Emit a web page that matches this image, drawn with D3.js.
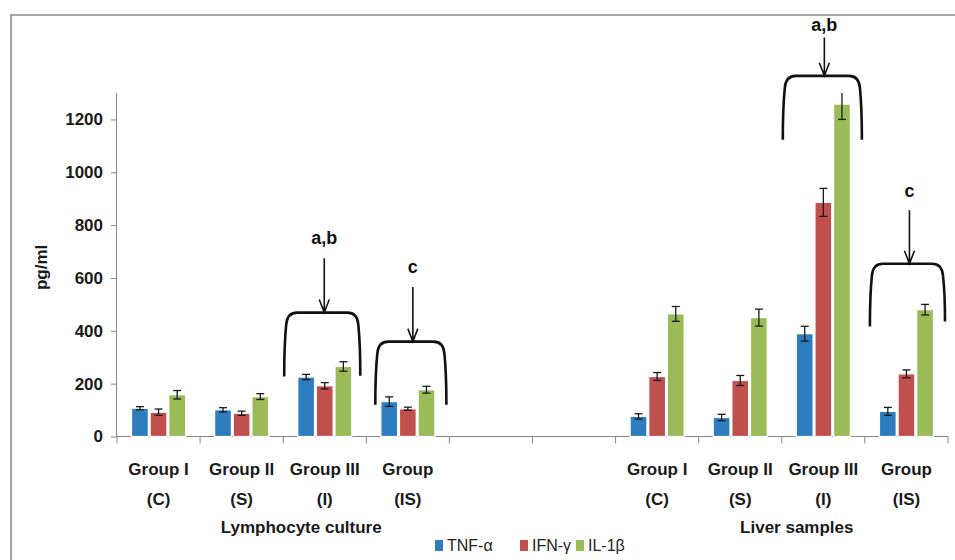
<!DOCTYPE html>
<html>
<head>
<meta charset="utf-8">
<script src="https://cdn.jsdelivr.net/npm/d3@7"></script>
<style>
  body { margin: 0; background: #fff; }
  svg text { font-family: "Liberation Sans", Arial, sans-serif; }
</style>
</head>
<body>
<div id="chart"></div>
<script>
// categories (two text lines each); two empty slots separate the panels
const catLine1 = ["Group I", "Group II", "Group III", "Group", "", "", "Group I", "Group II", "Group III", "Group"];
const catLine2 = ["(C)", "(S)", "(I)", "(IS)", "", "", "(C)", "(S)", "(I)", "(IS)"];

const series = ["TNF-α", "IFN-γ", "IL-1β"];
const colors = ["#2e7ebf", "#c0504d", "#9bbb59"];

const tnf    = [107, 101, 225, 132, null, null, 76, 72, 389, 95];
const tnfErr = [6, 8, 10, 18, 0, 0, 10, 12, 28, 15];
const ifn    = [92, 88, 192, 105, null, null, 227, 212, 886, 237];
const ifnErr = [12, 8, 12, 6, 0, 0, 15, 19, 53, 15];
const il1    = [158, 151, 265, 177, null, null, 464, 450, 1258, 480];
const il1Err = [16, 11, 18, 13, 0, 0, 28, 32, 58, 20];

const yTicks = [0, 200, 400, 600, 800, 1000, 1200];
const yMax = 1300;

// significance brackets: category index, letter, bracket top / foot values, arrow start, letter position
const annCat    = [2, 3, 8, 9];
const annLabel  = ["a,b", "c", "a,b", "c"];
const annTop    = [469, 359, 1365, 654];
const annFootL  = [227, 120, 1123, 416];
const annFootR  = [230, 120, 1123, 435];
const annArrow  = [675, 566, 1510, 856];
const annText   = [730, 620, 1535, 905];

const panelLabels = ["Lymphocyte culture", "Liver samples"];

const width = 955, height = 560;
const margin = { left: 117, right: 7, top: 93, bottom: 124 };

const svg = d3.select("#chart").append("svg")
  .attr("width", width).attr("height", height);

// outer frame
svg.append("path")
  .attr("d", `M11,${height} L11,15 L${width},15`)
  .attr("fill", "none").attr("stroke", "#8a8a8a").attr("stroke-width", 1.6);

const x0 = d3.scaleBand()
  .domain(d3.range(catLine1.length))
  .range([margin.left, width - margin.right]);

const groupW = x0.bandwidth() * 0.65;
const x1 = d3.scaleBand()
  .domain(series)
  .range([(x0.bandwidth() - groupW) / 2, (x0.bandwidth() + groupW) / 2])
  .paddingInner(0.1);

const y = d3.scaleLinear()
  .domain([0, yMax])
  .range([height - margin.bottom + 0.5, margin.top]);

// y axis
const yAxis = svg.append("g")
  .attr("transform", `translate(${margin.left},0)`)
  .call(d3.axisLeft(y).tickValues(yTicks).tickFormat(d3.format("d")).tickSize(6).tickPadding(8));
yAxis.select(".domain").attr("stroke", "#868686").attr("d", `M-0.5,${y(0)}V${y(yMax)}`);
yAxis.selectAll(".tick line").attr("stroke", "#868686");
yAxis.selectAll(".tick text")
  .attr("font-size", 17).attr("font-weight", "bold").attr("fill", "#1a1a1a");

svg.append("text")
  .attr("transform", `translate(47,${y(640)}) rotate(-90)`)
  .attr("text-anchor", "middle")
  .attr("font-size", 17).attr("font-weight", "bold").attr("fill", "#1a1a1a")
  .text("pg/ml");

// x axis
const xAxisY = y(0);
svg.append("line")
  .attr("x1", margin.left).attr("x2", width - margin.right)
  .attr("y1", xAxisY).attr("y2", xAxisY)
  .attr("stroke", "#868686");
const bounds = d3.range(catLine1.length + 1).map(i => i < catLine1.length ? x0(i) : x0(i - 1) + x0.bandwidth());
svg.append("g").selectAll("line")
  .data(bounds)
  .join("line")
  .attr("x1", d => d).attr("x2", d => d)
  .attr("y1", xAxisY).attr("y2", xAxisY + 7)
  .attr("stroke", "#868686");

const catG = svg.append("g")
  .attr("font-size", 17).attr("font-weight", "bold").attr("fill", "#1a1a1a")
  .attr("text-anchor", "middle");
catG.selectAll("text.l1").data(catLine1).join("text").attr("class", "l1")
  .attr("x", (d, i) => x0(i) + x0.bandwidth() / 2).attr("y", 475)
  .text(d => d);
catG.selectAll("text.l2").data(catLine2).join("text").attr("class", "l2")
  .attr("x", (d, i) => x0(i) + x0.bandwidth() / 2).attr("y", 505)
  .text(d => d);

// panel labels
svg.append("g")
  .attr("font-size", 17).attr("font-weight", "bold").attr("fill", "#1a1a1a")
  .attr("text-anchor", "middle")
  .selectAll("text").data(panelLabels).join("text")
  .attr("x", (d, i) => i === 0 ? (x0(0) + x0(4)) / 2 + 18 : (x0(6) + x0(9) + x0.bandwidth()) / 2 + 15)
  .attr("y", 533)
  .text(d => d);

// bars
const values = [tnf, ifn, il1];
const errs = [tnfErr, ifnErr, il1Err];
const barData = [];
values.forEach((arr, s) => arr.forEach((v, i) => {
  if (v != null) barData.push({ s, i, v, e: errs[s][i] });
}));

svg.append("g").selectAll("rect")
  .data(barData)
  .join("rect")
  .attr("x", d => x0(d.i) + x1(series[d.s]))
  .attr("y", d => y(d.v))
  .attr("width", x1.bandwidth())
  .attr("height", d => y(0) - y(d.v))
  .attr("fill", d => colors[d.s])
  .attr("stroke", "#fff")
  .attr("stroke-width", 1.2);

// error bars (upper whisker clipped at axis max)
const eg = svg.append("g").attr("stroke", "#1a1a1a").attr("stroke-width", 1.3);
barData.forEach(d => {
  const cx = x0(d.i) + x1(series[d.s]) + x1.bandwidth() / 2;
  const hi = Math.min(d.v + d.e, yMax);
  const lo = d.v - d.e;
  eg.append("line").attr("x1", cx).attr("x2", cx).attr("y1", y(hi)).attr("y2", y(lo));
  eg.append("line").attr("x1", cx - 4).attr("x2", cx + 4).attr("y1", y(lo)).attr("y2", y(lo));
  if (d.v + d.e <= yMax) {
    eg.append("line").attr("x1", cx - 4).attr("x2", cx + 4).attr("y1", y(hi)).attr("y2", y(hi));
  }
});

// significance brackets + arrows
const ag = svg.append("g").attr("fill", "none").attr("stroke", "#111");
annCat.forEach((c, k) => {
  const insetL = k === 1 ? 9 : k === 3 ? 5 : 1;
  const insetR = k === 0 ? 6 : 3;
  const xl = x0(c) + insetL;
  const xr = x0(c) + x0.bandwidth() - insetR;
  const yt = y(annTop[k]);
  const ybl = y(annFootL[k]);
  const ybr = y(annFootR[k]);
  ag.append("path")
    .attr("stroke-width", 2.6)
    .attr("d", `M${xl},${ybl} Q${xl},${(ybl + yt) / 2} ${xl + 2},${yt + 12} Q${xl + 3},${yt} ${xl + 13},${yt}` +
      ` L${xr - 13},${yt} Q${xr - 3},${yt} ${xr - 2},${yt + 12} Q${xr},${(ybr + yt) / 2} ${xr},${ybr}`);
  const ax = (xl + xr) / 2 + 2;
  ag.append("path")
    .attr("stroke-width", 1.6)
    .attr("d", `M${ax},${y(annArrow[k])} L${ax},${yt} M${ax - 5},${yt - 13} L${ax},${yt} L${ax + 5},${yt - 13}`);
  svg.append("text")
    .attr("x", ax).attr("y", y(annText[k]))
    .attr("text-anchor", "middle")
    .attr("font-size", 18).attr("font-weight", "bold").attr("fill", "#111")
    .text(annLabel[k]);
});

// legend
const legendX = [435, 520, 576];
const lg = svg.append("g");
series.forEach((s, i) => {
  lg.append("rect").attr("x", legendX[i]).attr("y", 540).attr("width", 8).attr("height", 11).attr("fill", colors[i]);
  lg.append("text").attr("x", legendX[i] + 12).attr("y", 551)
    .attr("font-size", 16).attr("fill", "#222").text(s);
});
</script>
</body>
</html>
